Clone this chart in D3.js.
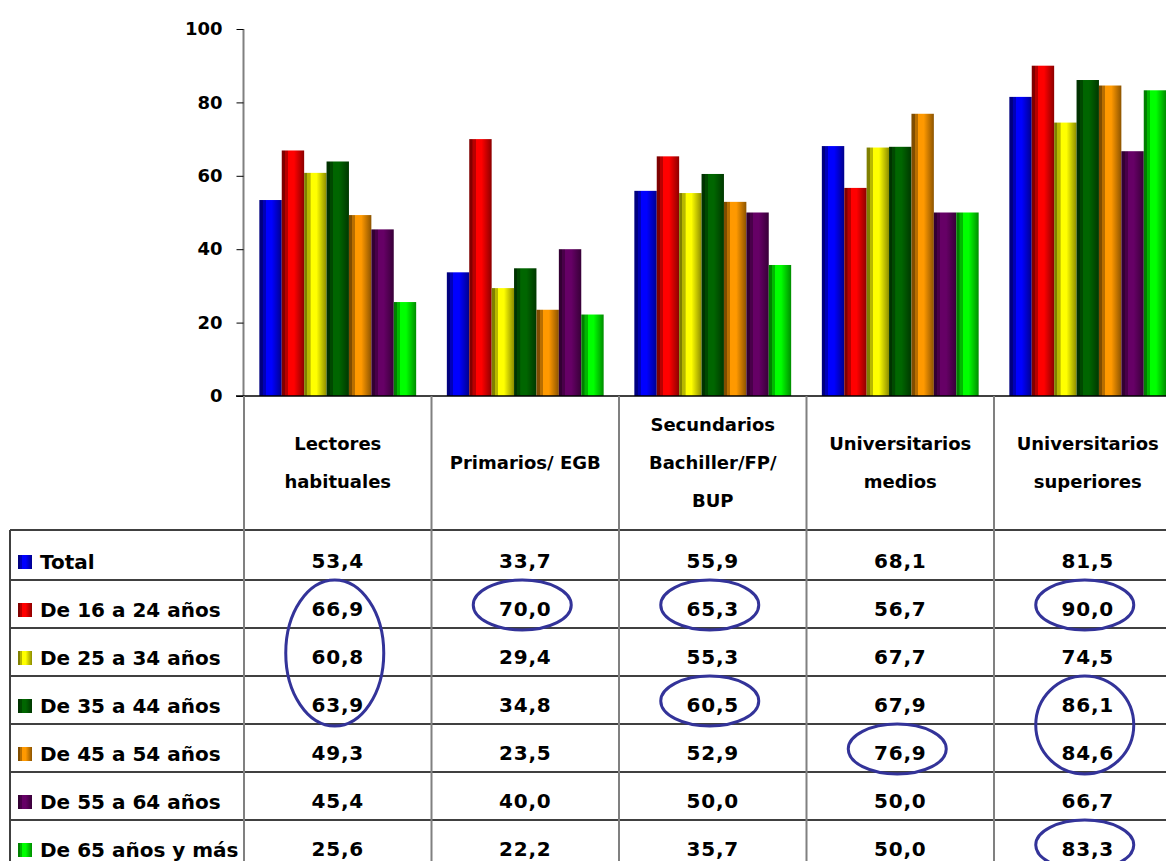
<!DOCTYPE html>
<html>
<head>
<meta charset="utf-8">
<script src="https://cdn.jsdelivr.net/npm/d3@7"></script>
<style>
  body { margin: 0; background: #fff; }
  svg text { font-family: "DejaVu Sans", sans-serif; font-weight: bold; fill: #000; }
</style>
</head>
<body>
<svg id="chart"></svg>
<script>
// column headers (one entry per line of the header cell)
var categories = ["Lectores habituales", "Primarios/ EGB", "Secundarios Bachiller/FP/ BUP", "Universitarios medios", "Universitarios superiores"];
var categoryLines = [["Lectores", "habituales"], ["Primarios/ EGB"], ["Secundarios", "Bachiller/FP/", "BUP"], ["Universitarios", "medios"], ["Universitarios", "superiores"]];

var series = ["Total", "De 16 a 24 años", "De 25 a 34 años", "De 35 a 44 años", "De 45 a 54 años", "De 55 a 64 años", "De 65 años y más"];
var seriesColors = ["#0000ff", "#ff0000", "#ffff00", "#006600", "#ff9900", "#660066", "#00ff00"];

var total   = [53.4, 33.7, 55.9, 68.1, 81.5];
var de16a24 = [66.9, 70.0, 65.3, 56.7, 90.0];
var de25a34 = [60.8, 29.4, 55.3, 67.7, 74.5];
var de35a44 = [63.9, 34.8, 60.5, 67.9, 86.1];
var de45a54 = [49.3, 23.5, 52.9, 76.9, 84.6];
var de55a64 = [45.4, 40.0, 50.0, 50.0, 66.7];
var de65mas = [25.6, 22.2, 35.7, 50.0, 83.3];
var values = [total, de16a24, de25a34, de35a44, de45a54, de55a64, de65mas];

var yTicks = [0, 20, 40, 60, 80, 100];

// circled cells: category index, first and last series index
var highlights = [
  {cat: 0, from: 1, to: 3},
  {cat: 1, from: 1, to: 1},
  {cat: 2, from: 1, to: 1},
  {cat: 2, from: 3, to: 3},
  {cat: 3, from: 4, to: 4},
  {cat: 4, from: 1, to: 1},
  {cat: 4, from: 3, to: 4},
  {cat: 4, from: 6, to: 6}
];

var W = 1166, H = 861;
var plotLeft = 244, plotTop = 29, plotBottom = 396;
var headerBottom = 530;

var svg = d3.select("#chart").attr("width", W).attr("height", H);

var x = d3.scaleBand().domain(categories).range([plotLeft, plotLeft + 5 * 187.5]);
var xs = d3.scaleBand().domain(series).range([0, x.bandwidth()]).paddingOuter(0.685);
var y = d3.scaleLinear().domain([0, 100]).range([plotBottom, plotTop]);
var rowY = d3.scaleBand().domain(series).range([532, 532 + 7 * 48]);

//gradients, cylinder-like shading
var defs = svg.append("defs");
seriesColors.forEach(function(c, i) {
  var g = defs.append("linearGradient").attr("id", "grad" + i)
    .attr("x1", "0%").attr("x2", "100%").attr("y1", "0%").attr("y2", "0%");
  var stops = [[0, 0.5], [0.14, 0.5], [0.15, 0.72], [0.28, 0.72], [0.29, 1], [0.55, 1], [0.7, 0.85], [0.85, 0.7], [1, 0.55]];
  stops.forEach(function(s) {
    g.append("stop").attr("offset", s[0]).attr("stop-color", d3.color(c).darker(0).copy({opacity: 1}).darker(Math.log(1 / s[1]) / Math.log(0.7) * -1));
  });
});

// bars
var barG = svg.append("g");
series.forEach(function(s, si) {
  barG.selectAll(".bar" + si)
    .data(values[si])
    .join("rect")
    .attr("x", function(d, ci) { return x(categories[ci]) + xs(s); })
    .attr("y", function(d) { return y(d); })
    .attr("width", xs.bandwidth())
    .attr("height", function(d) { return plotBottom - y(d); })
    .attr("fill", "url(#grad" + si + ")");
});

// y axis
var yAxis = d3.axisLeft(y).tickValues(yTicks).tickSize(7).tickPadding(14);
var yG = svg.append("g").attr("transform", "translate(" + (plotLeft - 0.5) + ",0)").call(yAxis);
yG.select(".domain").attr("stroke", "#808080").attr("stroke-width", 2).attr("d", "M0," + plotTop + "V" + plotBottom);
yG.selectAll(".tick line").attr("stroke", "#000");
yG.selectAll(".tick text").style("font-size", "18px").style("font-family", "DejaVu Sans").style("font-weight", "bold");

// table grid
var grid = svg.append("g");
grid.append("line").attr("x1", 236).attr("x2", W).attr("y1", plotBottom).attr("y2", plotBottom).attr("stroke", "#000").attr("stroke-width", 1.5);
grid.append("line").attr("x1", 10).attr("x2", W).attr("y1", headerBottom).attr("y2", headerBottom).attr("stroke", "#000").attr("stroke-width", 1.5);
grid.selectAll(".rowline").data(series.slice(1)).join("line")
  .attr("x1", 10).attr("x2", W)
  .attr("y1", function(s) { return rowY(s); }).attr("y2", function(s) { return rowY(s); })
  .attr("stroke", "#000").attr("stroke-width", 1.5);
grid.append("line").attr("x1", 10).attr("x2", 10).attr("y1", headerBottom).attr("y2", H).attr("stroke", "#404040").attr("stroke-width", 2);
grid.selectAll(".colline").data(categories).join("line")
  .attr("x1", function(c) { return x(c); }).attr("x2", function(c) { return x(c); })
  .attr("y1", plotBottom).attr("y2", H)
  .attr("stroke", "#808080").attr("stroke-width", 2);

// header labels
var headerMid = 463, lineH = 38;
categories.forEach(function(c, ci) {
  var lines = categoryLines[ci];
  svg.append("text")
    .attr("x", x(c) + x.bandwidth() / 2)
    .attr("text-anchor", "middle")
    .style("font-size", "18px")
    .selectAll("tspan").data(lines).join("tspan")
    .attr("x", x(c) + x.bandwidth() / 2)
    .attr("y", function(d, i) { return headerMid + 6 + (i - (lines.length - 1) / 2) * lineH; })
    .text(function(d) { return d; });
});

// row labels with legend keys
var rows = svg.append("g");
series.forEach(function(s, si) {
  var cy = rowY(s) + rowY.bandwidth() / 2;
  rows.append("rect").attr("x", 18).attr("y", cy - 1).attr("width", 14).attr("height", 14)
    .attr("fill", "url(#grad" + si + ")");
  rows.append("text").attr("x", 40).attr("y", cy + 13).style("font-size", "20px").text(s);
  rows.selectAll(".val" + si).data(values[si]).join("text")
    .attr("x", function(d, ci) { return x(categories[ci]) + x.bandwidth() / 2; })
    .attr("y", cy + 12)
    .attr("text-anchor", "middle")
    .style("font-size", "20px")
    .style("letter-spacing", "0.8px")
    .text(function(d) { return d3.format(".1f")(d).replace(".", ","); });
});

// hand drawn circles
svg.append("g").selectAll("ellipse").data(highlights).join("ellipse")
  .attr("cx", function(h) { return x(categories[h.cat]) + x.bandwidth() / 2 - 3; })
  .attr("cy", function(h) { return (rowY(series[h.from]) + rowY(series[h.to]) + rowY.bandwidth()) / 2 + 1; })
  .attr("rx", 49)
  .attr("ry", function(h) { return (h.to - h.from + 1) * rowY.bandwidth() / 2 + 1; })
  .attr("fill", "none")
  .attr("stroke", "#333399")
  .attr("stroke-width", 3);
</script>
</body>
</html>
